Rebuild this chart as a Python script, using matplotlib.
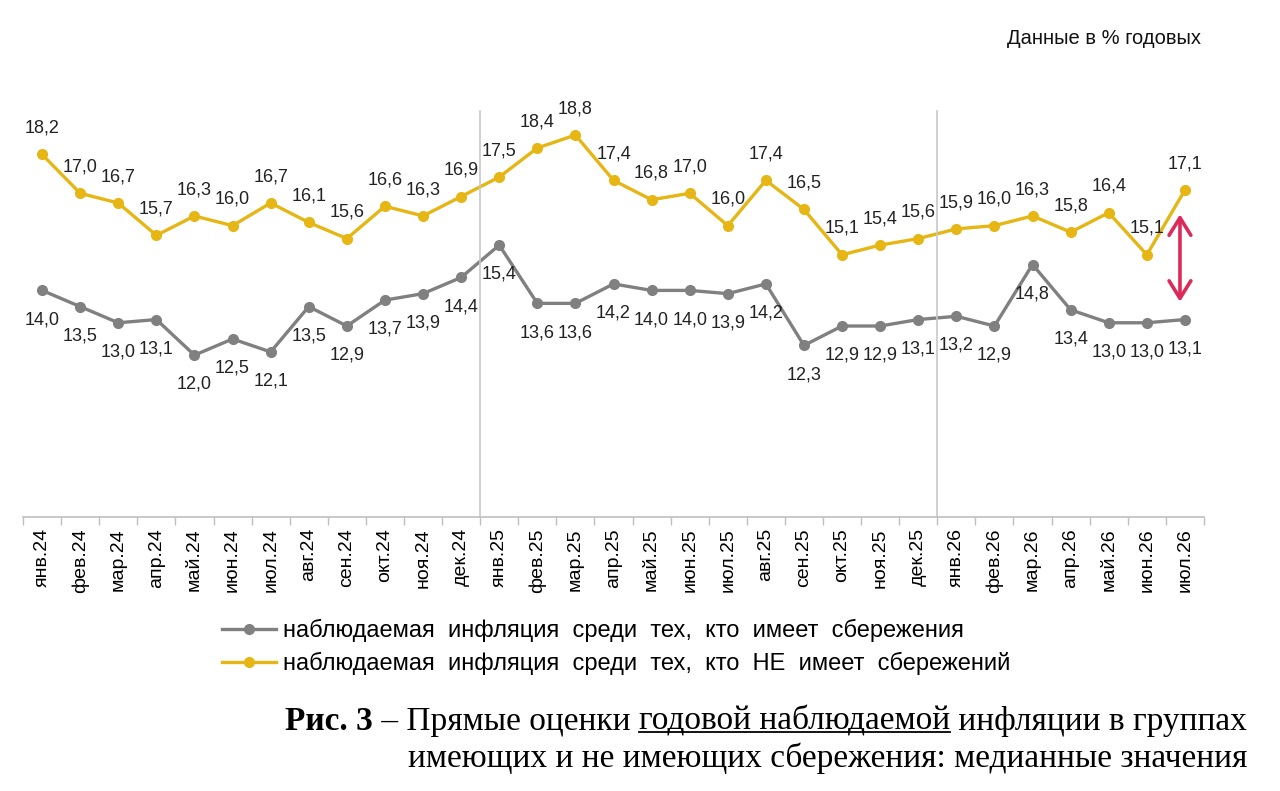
import matplotlib.pyplot as plt
from matplotlib.lines import Line2D

plt.rcParams['font.family'] = ['Liberation Sans', 'DejaVu Sans']

# Данные
months = ['янв.24', 'фев.24', 'мар.24', 'апр.24', 'май.24', 'июн.24', 'июл.24', 'авг.24',
          'сен.24', 'окт.24', 'ноя.24', 'дек.24',
          'янв.25', 'фев.25', 'мар.25', 'апр.25', 'май.25', 'июн.25', 'июл.25', 'авг.25',
          'сен.25', 'окт.25', 'ноя.25', 'дек.25',
          'янв.26', 'фев.26', 'мар.26', 'апр.26', 'май.26', 'июн.26', 'июл.26']

savers = [14.0, 13.5, 13.0, 13.1, 12.0, 12.5, 12.1, 13.5, 12.9, 13.7, 13.9, 14.4,
          15.4, 13.6, 13.6, 14.2, 14.0, 14.0, 13.9, 14.2, 12.3, 12.9, 12.9, 13.1,
          13.2, 12.9, 14.8, 13.4, 13.0, 13.0, 13.1]

non_savers = [18.2, 17.0, 16.7, 15.7, 16.3, 16.0, 16.7, 16.1, 15.6, 16.6, 16.3, 16.9,
              17.5, 18.4, 18.8, 17.4, 16.8, 17.0, 16.0, 17.4, 16.5, 15.1, 15.4, 15.6,
              15.9, 16.0, 16.3, 15.8, 16.4, 15.1, 17.1]

label_savers = 'наблюдаемая  инфляция  среди  тех,  кто  имеет  сбережения'
label_non = 'наблюдаемая  инфляция  среди  тех,  кто  НЕ  имеет  сбережений'

gray = '#808080'
yellow = '#E6B614'

fig = plt.figure(figsize=(12.8, 7.91), dpi=100, facecolor='white')
ax = fig.add_axes([0.018, 0.3464, 0.9226, 0.532])

x = list(range(len(months)))

ax.plot(x, savers, color=gray, linewidth=2.4, marker='o', markersize=7, label=label_savers)
ax.plot(x, non_savers, color=yellow, linewidth=2.4, marker='o', markersize=7, label=label_non)

# Подписи значений
for i in x:
    ax.annotate(f'{savers[i]:.1f}'.replace('.', ','), (i, savers[i]),
                xytext=(0, -21), textcoords='offset points',
                ha='center', va='center', fontsize=13, color='#222222')
    ax.annotate(f'{non_savers[i]:.1f}'.replace('.', ','), (i, non_savers[i]),
                xytext=(0, 19), textcoords='offset points',
                ha='center', va='center', fontsize=13, color='#222222')

# Разделители годов
for xv in [11.5, 23.5]:
    ax.axvline(xv, ymin=0, ymax=0.965, color='#C8C8C8', linewidth=1.2)

# Стрелка разрыва
ax.annotate('', xy=(29.87, 16.35), xytext=(29.87, 13.65),
            arrowprops=dict(arrowstyle='<->, head_length=0.45, head_width=0.28',
                            color='#DC2A5A', lw=2.6,
                            mutation_scale=28, shrinkA=0, shrinkB=0))

ax.set_xlim(-0.5, len(months) - 0.5)
ax.set_ylim(7, 20)

ax.set_xticks(x)
ax.set_xticklabels(months, rotation=90, fontsize=14)
ax.set_xticks([i - 0.5 for i in range(len(months) + 1)], minor=True)
ax.tick_params(axis='x', which='major', length=0, pad=8)
ax.tick_params(axis='x', which='minor', length=6, color='#BFBFBF', width=1)
ax.set_yticks([])

for s in ['top', 'right', 'left']:
    ax.spines[s].set_visible(False)
ax.spines['bottom'].set_color('#BFBFBF')
ax.spines['bottom'].set_linewidth(1.2)

# Легенда
fig.legend(loc='upper left', bbox_to_anchor=(222 / 1280, 1 - 619 / 791),
           frameon=False, fontsize=17, handlelength=2.3, handletextpad=0.3,
           labelspacing=0.42, borderpad=0, borderaxespad=0)

fig.text(1201 / 1280, 1 - 38 / 791, 'Данные в % годовых', ha='right', va='center',
         fontsize=14.5, color='#111111')

# Подпись рисунка
serif = ['Liberation Serif', 'DejaVu Serif']
cap_size = 24
right = 1247 / 1280
y1 = 1 - 737 / 791
y2 = 1 - 774 / 791

t4 = fig.text(right, y1, ' инфляции в группах', ha='right', va='bottom',
              family=serif, fontsize=cap_size)
t3 = fig.text(0, y1, 'годовой наблюдаемой', ha='right', va='bottom',
              family=serif, fontsize=cap_size)
fig.canvas.draw()
r = fig.canvas.get_renderer()


def place_left_of(txt, ref):
    bb = ref.get_window_extent(r)
    txt.set_position((bb.x0 / fig.bbox.width, y1))


place_left_of(t3, t4)
t2 = fig.text(0, y1, ' – Прямые оценки ', ha='right', va='bottom', family=serif, fontsize=cap_size)
place_left_of(t2, t3)
t1 = fig.text(0, y1, 'Рис. 3', ha='right', va='bottom', family=serif, fontsize=cap_size,
              fontweight='bold')
place_left_of(t1, t2)

fig.text(right, y2, 'имеющих и не имеющих сбережения: медианные значения', ha='right',
         va='bottom', family=serif, fontsize=cap_size)

fig.canvas.draw()
bb = t3.get_window_extent(r)
uy = (bb.y0 + 5) / fig.bbox.height
fig.add_artist(Line2D([bb.x0 / fig.bbox.width, bb.x1 / fig.bbox.width], [uy, uy],
                      transform=fig.transFigure, color='black', linewidth=1.3))

fig.savefig('out.png', dpi=100, facecolor='white')
plt.close()
